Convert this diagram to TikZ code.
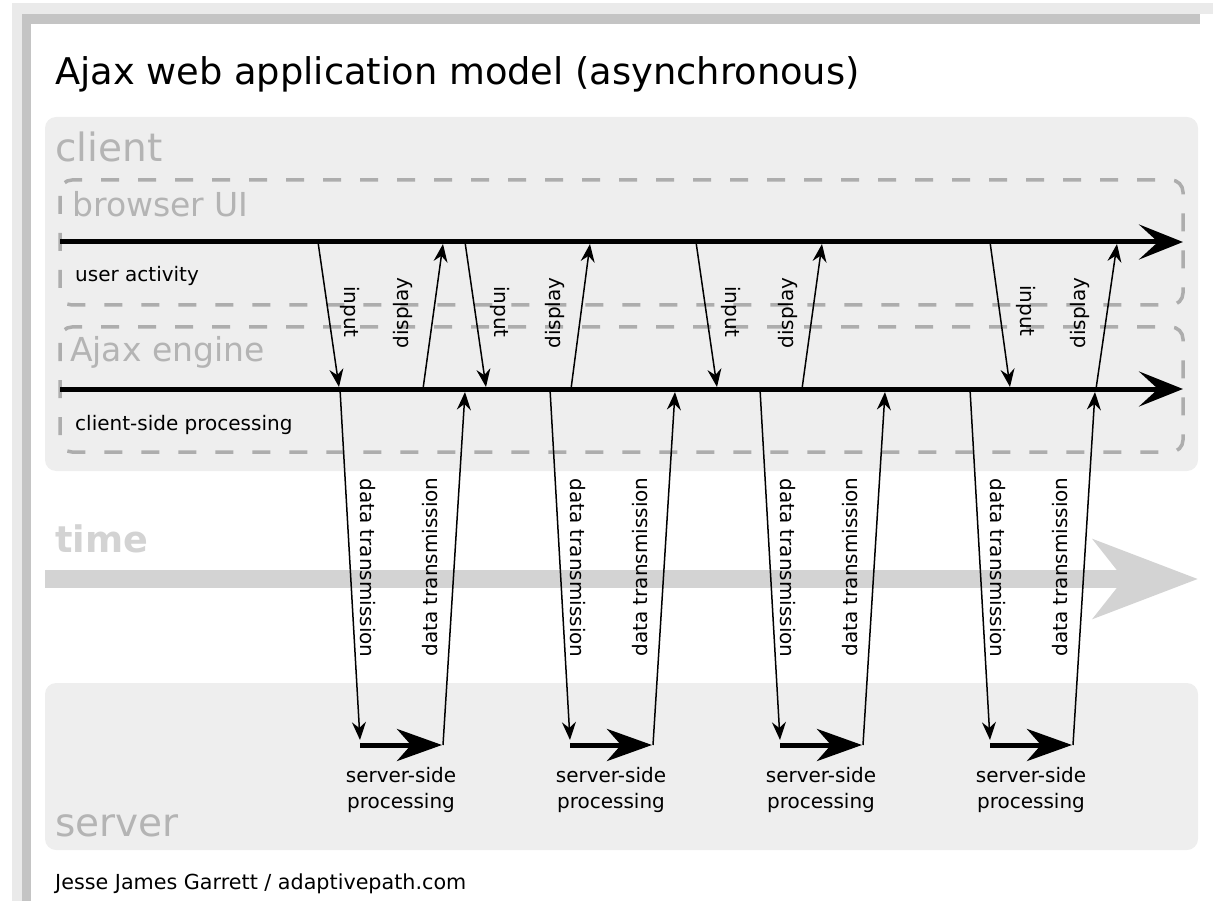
\documentclass[tikz,border=0pt]{standalone}
\usepackage{fontspec}
\setmainfont{DejaVu Sans}
\usetikzlibrary{arrows.meta}
\definecolor{boxgray}{HTML}{EEEEEE}
\definecolor{labgray}{HTML}{B4B4B4}
\definecolor{dashgray}{HTML}{ADADAD}
\definecolor{timegray}{HTML}{D3D3D3}
\definecolor{framelight}{HTML}{EAEAEA}
\definecolor{framedark}{HTML}{C4C4C4}
\begin{document}
\begin{tikzpicture}[x=1pt,y=-1pt,
  region/.style={fill=boxgray, rounded corners=11pt},
  lane/.style={draw=dashgray, line width=3.5pt, dash pattern=on 18pt off 19pt, dash phase=-4pt, rounded corners=12pt},
  bigtxt/.style={font=\fontsize{39}{39}\selectfont, text=labgray, anchor=base west, inner sep=0pt},
  lanetxt/.style={font=\fontsize{33}{33}\selectfont, text=labgray, anchor=base west, inner sep=0pt},
  smalltxt/.style={font=\fontsize{20}{20}\selectfont, anchor=base west, inner sep=0pt},
  flow/.style={line width=5pt, -{Stealth[length=44pt,width=35pt,inset=19pt]}},
  msg/.style={line width=1.5pt, -{Stealth[length=18pt,width=14pt,inset=6pt]}},
  srv/.style={line width=5pt, -{Stealth[length=45pt,width=32pt,inset=14pt]}},
  vlab/.style={font=\fontsize{20}{20}\selectfont, inner sep=0pt},
  ctr/.style={font=\fontsize{20}{20}\selectfont, inner sep=0pt, anchor=base},
]
\useasboundingbox (0,0) rectangle (1213,901);
% window frame
\fill[framelight] (12,3) rectangle (1213,14);
\fill[framelight] (12,3) rectangle (22,901);
\fill[framedark] (22,14) rectangle (1200,24);
\fill[framedark] (22,14) rectangle (31,901);

% title
\node[anchor=base west, inner sep=0pt, font=\fontsize{36.8}{37}\selectfont] (title) at (55,85) {Ajax web application model (asynchronous)};

% regions
\path[region] (45,117) rectangle (1198,471);
\path[region] (45,683) rectangle (1198,850);
\node[bigtxt] (client) at (55,162) {client};
\node[bigtxt] (server) at (55,836) {server};

% lanes
\draw[lane] (60,180) rectangle (1183,305);
\draw[lane] (60,327) rectangle (1183,452);
\node[lanetxt] (bui) at (72,217) {browser UI};
\node[lanetxt] (aje) at (70,362) {Ajax engine};
\node[smalltxt] (ua) at (75,282) {user activity};
\node[smalltxt] (csp) at (75,430) {client-side processing};

% time
\node[anchor=base west, inner sep=0pt, text=timegray, font=\fontsize{36.6}{37}\selectfont\bfseries] (time) at (55,552) {time};
\coordinate (t0) at (45,579);
\coordinate (t1) at (1198,579);
\draw[timegray, line width=18pt, -{Stealth[length=104pt,width=78pt,inset=30pt]}] (t0) -- (t1);

% main flow lines
\coordinate (ua0) at (60,242);
\coordinate (ua1) at (1183,242);
\coordinate (cp0) at (60,389);
\coordinate (cp1) at (1183,389);
\draw[flow] (ua0) -- (ua1);
\draw[flow] (cp0) -- (cp1);

% browser <-> engine arrows
\coordinate (i1a) at (318,242); \coordinate (i1b) at (339,387);
\coordinate (d1a) at (423,389); \coordinate (d1b) at (443,244);
\coordinate (i2a) at (465,242); \coordinate (i2b) at (486,387);
\coordinate (d2a) at (571,389); \coordinate (d2b) at (590,244);
\coordinate (i3a) at (696,242); \coordinate (i3b) at (717,387);
\coordinate (d3a) at (802,389); \coordinate (d3b) at (822,244);
\coordinate (i4a) at (990,242); \coordinate (i4b) at (1010,387);
\coordinate (d4a) at (1096,389); \coordinate (d4b) at (1117,244);
\draw[msg] (i1a) -- (i1b);
\draw[msg] (d1a) -- (d1b);
\draw[msg] (i2a) -- (i2b);
\draw[msg] (d2a) -- (d2b);
\draw[msg] (i3a) -- (i3b);
\draw[msg] (d3a) -- (d3b);
\draw[msg] (i4a) -- (i4b);
\draw[msg] (d4a) -- (d4b);
\node[vlab, rotate=-90] (li1) at (350,312) {input};
\node[vlab, rotate=-90] (li2) at (500,312) {input};
\node[vlab, rotate=-90] (li3) at (731,312) {input};
\node[vlab, rotate=-90] (li4) at (1026,311) {input};
\node[vlab, rotate=90] (ld1) at (403,313) {display};
\node[vlab, rotate=90] (ld2) at (555,313) {display};
\node[vlab, rotate=90] (ld3) at (788,313) {display};
\node[vlab, rotate=90] (ld4) at (1080,313) {display};

% engine <-> server
\foreach \k in {0,1,2,3}{
  \pgfmathsetmacro{\dx}{210*\k}
  \coordinate (dn\k a) at (340+\dx,389);
  \coordinate (dn\k b) at (360+\dx,740);
  \coordinate (sp\k a) at (360+\dx,745);
  \coordinate (sp\k b) at (442+\dx,745);
  \coordinate (up\k a) at (443+\dx,745);
  \coordinate (up\k b) at (465+\dx,392);
  \draw[msg] (dn\k a) -- (dn\k b);
  \draw[srv] (sp\k a) -- (sp\k b);
  \draw[msg] (up\k a) -- (up\k b);
  \node[vlab, rotate=-90] (ldn\k) at (368+\dx,568) {data transmission};
  \node[vlab, rotate=90] (lup\k) at (430+\dx,567) {data transmission};
  \node[ctr] (ssa\k) at (401+\dx,782) {server-side};
  \node[ctr] (ssb\k) at (401+\dx,808) {processing};
}

% footer
\node[anchor=base west, inner sep=0pt, font=\fontsize{20.7}{21}\selectfont] (foot) at (55,889) {Jesse James Garrett / adaptivepath.com};
\end{tikzpicture}
\end{document}
